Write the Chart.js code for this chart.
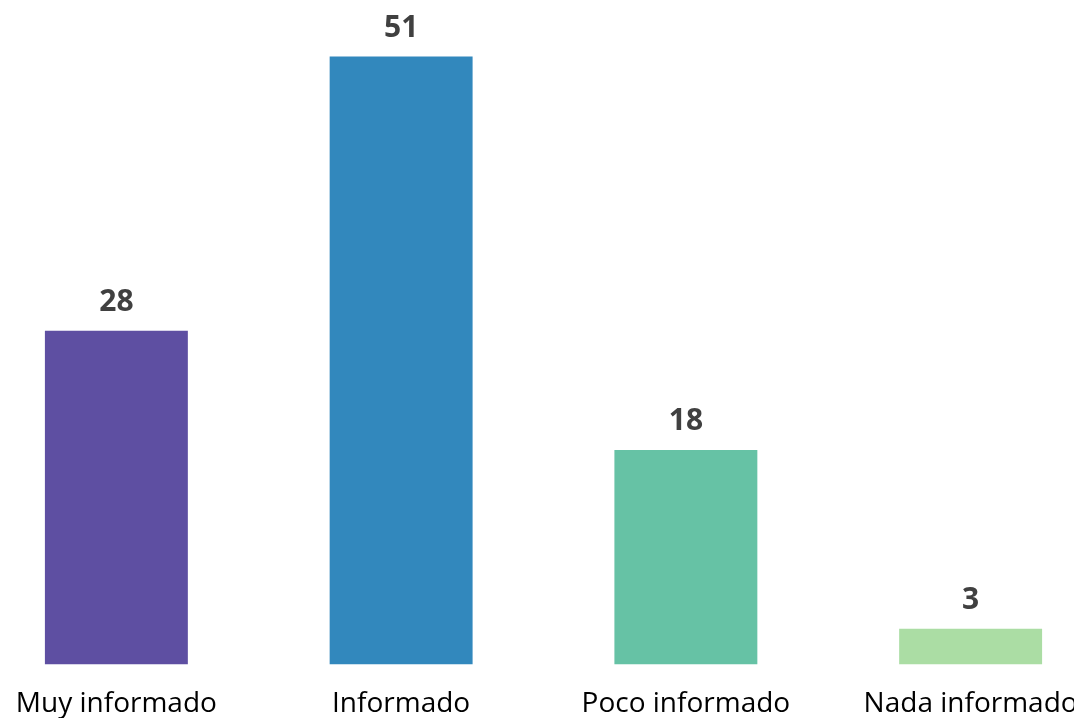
<!DOCTYPE html>
<html>
<head>
<meta charset="utf-8">
<script src="https://cdn.jsdelivr.net/npm/chart.js@4.4.0/dist/chart.umd.min.js"></script>
<style>
    html, body { margin: 0; padding: 0; background: #fff; overflow: hidden; }
    #wrap { position: absolute; left: -26px; top: 0; width: 1139px; height: 736px; }
</style>
</head>
<body>
<div id="wrap"><canvas id="chartInformado"></canvas></div>
<script>
const categorias = ["Muy informado", "Informado", "Poco informado", "Nada informado"];
const valores = [28, 51, 18, 3];
const colores = ["#5E4FA2", "#3288BD", "#66C2A5", "#ABDDA4"];

// etiquetas de valor encima de cada barra
const valueLabelsPlugin = {
    id: 'valueLabels',
    afterDatasetsDraw(chart) {
        const { ctx: c, data: d } = chart;
        chart.getDatasetMeta(0).data.forEach((bar, i) => {
            const value = d.datasets[0].data[i];
            c.save();
            c.font = 'bold 30px "Open Sans", sans-serif';
            c.fillStyle = '#404040';
            c.textAlign = 'center';
            c.textBaseline = 'alphabetic';
            c.fillText(String(value), bar.x, bar.y - 20);
            c.restore();
        });
    }
};

new Chart(document.getElementById("chartInformado"), {
    type: 'bar',
    data: {
        labels: categorias,
        datasets: [{
            data: valores,
            backgroundColor: colores,
            borderWidth: 0,
            barPercentage: 0.502,
            categoryPercentage: 1
        }]
    },
    options: {
        responsive: true,
        maintainAspectRatio: false,
        animation: false,
        layout: { padding: 0 },
        plugins: { legend: { display: false }, tooltip: { enabled: false } },
        scales: {
            x: {
                grid: { display: false },
                border: { display: false },
                ticks: { color: "#000", padding: 15, font: { size: 28, family: '"Open Sans", sans-serif' } }
            },
            y: {
                display: false,
                min: 0,
                max: 55.75
            }
        }
    },
    plugins: [valueLabelsPlugin]
});
</script>
</body>
</html>
